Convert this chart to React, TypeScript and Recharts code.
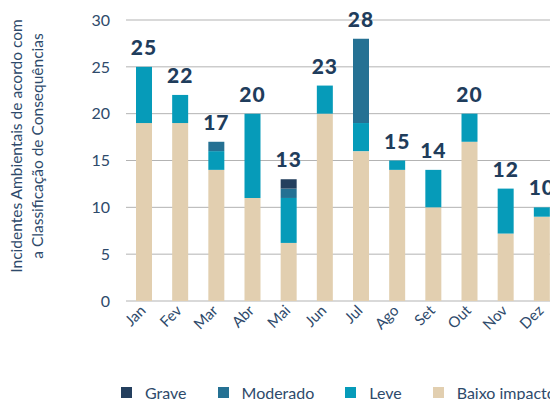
import React from "react";
import { BarChart, Bar, XAxis, YAxis, CartesianGrid, LabelList, Label } from "recharts";

const months = ["Jan", "Fev", "Mar", "Abr", "Mai", "Jun", "Jul", "Ago", "Set", "Out", "Nov", "Dez"];
const baixo = [19, 19, 14, 11, 6.2, 20, 16, 14, 10, 17, 7.2, 9];
const leve = [6, 3, 2, 9, 4.8, 3, 3, 1, 4, 3, 4.8, 1];
const moderado = [0, 0, 1, 0, 1, 0, 9, 0, 0, 0, 0, 0];
const grave = [0, 0, 0, 0, 1, 0, 0, 0, 0, 0, 0, 0];
const totals = [25, 22, 17, 20, 13, 23, 28, 15, 14, 20, 12, 10];
const yTicks = [0, 5, 10, 15, 20, 25, 30];
const yLabelLines = ["Incidentes Ambientais de acordo com", "a Classificação de Consequências"];

const series = [
  { key: "grave", name: "Grave", color: "#243f5e" },
  { key: "moderado", name: "Moderado", color: "#257193" },
  { key: "leve", name: "Leve", color: "#069bb9" },
  { key: "baixo", name: "Baixo impacto", color: "#e2cfb0" },
];

const data = months.map((m, i) => ({
  month: m,
  baixo: baixo[i],
  leve: leve[i],
  moderado: moderado[i],
  grave: grave[i],
  total: totals[i],
}));

const FONT = "Lato, 'Open Sans', sans-serif";
const TEXT = "#2e4a6b";

// Rendered on the "leve" segment (present in every month); the top of the stack
// is derived from the segment's own pixel scale.
const TotalLabel = (props: any) => {
  const { x, y, width, height, index } = props;
  const perUnit = height / leve[index];
  const above = (moderado[index] + grave[index]) * perUnit;
  const top = y - above;
  return (
    <text
      x={x + width / 2}
      y={top - 12}
      textAnchor="middle"
      fill="#1f3d5c"
      fontFamily={FONT}
      fontWeight={900}
      fontSize={21}
      letterSpacing={1}
    >
      {totals[index]}
    </text>
  );
};

const YLabel = () => {
  const cy = 146;
  return (
    <g>
      {yLabelLines.map((l, i) => (
        <text
          key={i}
          x={0}
          y={0}
          transform={`translate(${16 + i * 21}, ${cy}) rotate(-90)`}
          textAnchor="middle"
          dominantBaseline="central"
          fill={TEXT}
          fontFamily={FONT}
          fontSize={15.5}
        >
          {l}
        </text>
      ))}
    </g>
  );
};

export default function App() {
  return (
    <div style={{ position: "relative", width: 542, height: 400, margin: "-8px 0 0 -8px" }}>
      <div style={{ position: "absolute", left: 0, top: 0, width: 558, height: 400, overflow: "hidden" }}>
        <BarChart
          width={570}
          height={420}
          data={data}
          margin={{ top: 20, right: 10, bottom: 0, left: 0 }}
          barSize={16}
        >
          <CartesianGrid vertical={false} stroke="#b3b3b3" strokeWidth={1} />
          <XAxis
            dataKey="month"
            axisLine={false}
            tickLine={false}
            interval={0}
            angle={-45}
            textAnchor="end"
            height={119}
            tickMargin={0}
            tick={{ fill: TEXT, fontFamily: FONT, fontSize: 15 }}
            dy={-3}
            dx={-5}
          />
          <YAxis
            width={126}
            domain={[0, 30]}
            ticks={yTicks}
            axisLine={false}
            tickLine={false}
            tickMargin={10}
            tick={{ fill: TEXT, fontFamily: FONT, fontSize: 16 }}
          >
            <Label content={<YLabel />} />
          </YAxis>
          <Bar dataKey="baixo" stackId="a" fill="#e2cfb0" isAnimationActive={false} />
          <Bar dataKey="leve" stackId="a" fill="#069bb9" isAnimationActive={false}>
            <LabelList dataKey="total" content={<TotalLabel />} />
          </Bar>
          <Bar dataKey="moderado" stackId="a" fill="#257193" isAnimationActive={false} />
          <Bar dataKey="grave" stackId="a" fill="#243f5e" isAnimationActive={false} />
        </BarChart>
        <div
          style={{
            position: "absolute",
            left: 121,
            top: 383,
            display: "flex",
            gap: 31,
            fontFamily: FONT,
            fontSize: 16,
            color: TEXT,
            whiteSpace: "nowrap",
          }}
        >
          {series.map((s) => (
            <div key={s.key} style={{ display: "flex", alignItems: "center" }}>
              <span style={{ width: 11, height: 11, background: s.color, display: "inline-block", marginRight: 13 }} />
              <span>{s.name}</span>
            </div>
          ))}
        </div>
      </div>
    </div>
  );
}
